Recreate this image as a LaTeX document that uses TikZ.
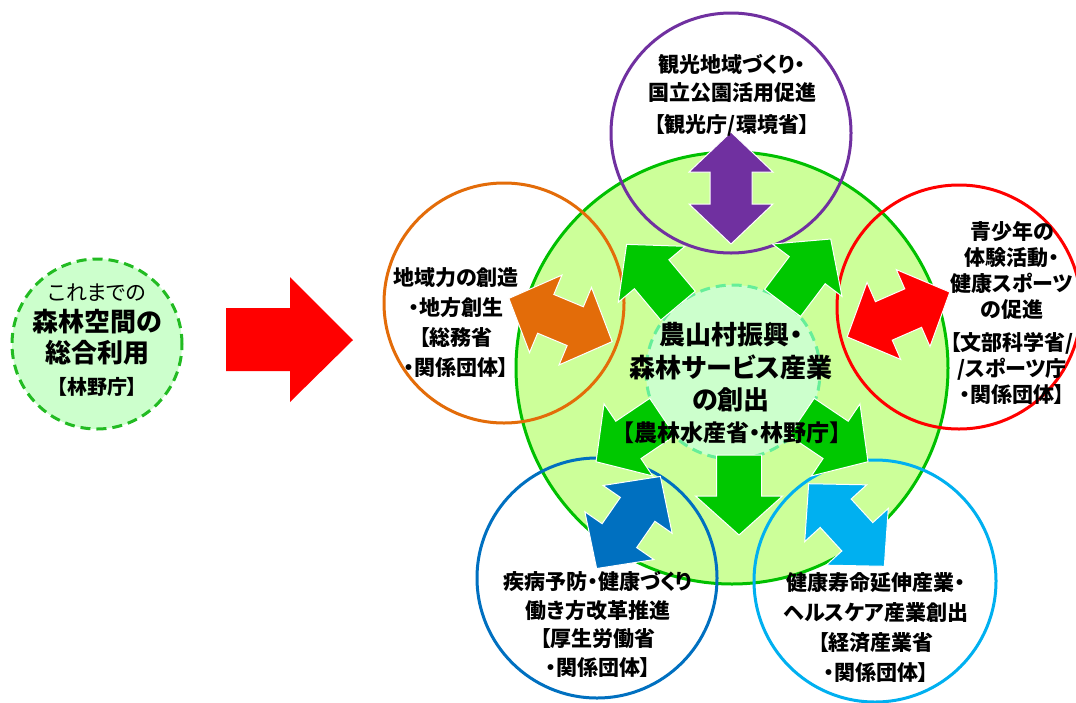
\documentclass[tikz,border=0pt]{standalone}
\usepackage{fontspec}
\setmainfont{Noto Sans CJK JP}[RawFeature={+palt}]
\definecolor{gring}{HTML}{00C000}
\definecolor{gfill}{HTML}{CCFF99}
\definecolor{ifill}{HTML}{CCFFCC}
\definecolor{idash}{HTML}{66EE99}
\definecolor{ldash}{HTML}{22BB22}
\definecolor{garrow}{HTML}{00C800}
\definecolor{cpurple}{HTML}{7030A0}
\definecolor{corange}{HTML}{E36C09}
\definecolor{cred}{HTML}{FF0000}
\definecolor{cblue}{HTML}{0070C0}
\definecolor{clblue}{HTML}{00B0F0}
\newcommand\mygarrow[3]{%
  \begin{scope}[shift={(#1,#2)},rotate=#3]
    \fill[garrow,draw=white,line width=1pt] (84,-22.5) -- (125,-22.5) -- (125,-43.5) -- (164,0)
      -- (125,43.5) -- (125,22.5) -- (84,22.5) -- cycle;
  \end{scope}}
\newcommand\mydarrow[4]{%
  \begin{scope}[shift={(#1,#2)},rotate=#3]
    \fill[#4,draw=white,line width=1pt] (-56,0) -- (-16,42) -- (-16,21) -- (16,21) -- (16,42)
      -- (56,0) -- (16,-42) -- (16,-21) -- (-16,-21) -- (-16,-42) -- cycle;
  \end{scope}}
\begin{document}
\begin{tikzpicture}[x=1pt,y=-1pt,
  ringc/.style={circle,draw,line width=3pt,inner sep=0pt,minimum size=#1},
  txt/.style={align=center,inner sep=0pt,font=\fontsize{21}{28}\selectfont\bfseries},
  ]
\useasboundingbox (0,0) rectangle (1076,702);
\fill[white] (0,0) rectangle (1076,702);
\clip (0,0) rectangle (1076,702);
% left circle
\node[ringc=170,draw=ldash,fill=ifill,dash pattern=on 10pt off 6pt] (left) at (97,344) {};
\node[inner sep=0pt,font=\fontsize{21}{21}\selectfont] (l1) at (97,293) {これまでの};
\node[inner sep=0pt,font=\fontsize{26}{26}\selectfont\bfseries] (l2) at (97,322) {森林空間の};
\node[inner sep=0pt,font=\fontsize{26}{26}\selectfont\bfseries] (l3) at (97,353) {総合利用};
\node[inner sep=0pt,font=\fontsize{20}{20}\selectfont\bfseries] (l4) at (97,387) {【林野庁】};
% red arrow
\fill[cred] (226,308) -- (290,308) -- (290,277) -- (353,340) -- (290,402) -- (290,371) -- (226,371) -- cycle;
% big circle
\node[ringc=432,draw=gring,fill=gfill] (big) at (732,368) {};
\node[ringc=174,draw=idash,fill=ifill,dash pattern=on 10pt off 6pt] (inner) at (733,372) {};
% outer circles
\node[ringc=240,draw=cpurple] (purple) at (731,133) {};
\node[ringc=240,draw=corange] (orange) at (504,303) {};
\node[ringc=244,draw=cred] (red) at (959,307) {};
\node[ringc=240,draw=cblue] (blue) at (597,578) {};
\node[ringc=242,draw=clblue] (lblue) at (875,581) {};
% green arrows
\mygarrow{732}{370}{53}
\mygarrow{732}{370}{130}
\mygarrow{732}{370}{214}
\mygarrow{739}{371}{270}
\mygarrow{732}{370}{326}
% double arrows
\mydarrow{731}{188}{90}{cpurple}
\mydarrow{560.5}{320}{-22.7}{corange}
\mydarrow{898.5}{314.5}{23.6}{cred}
\mydarrow{628.5}{522.5}{55.3}{cblue}
\mydarrow{846.5}{525}{-47.5}{clblue}
% central text
\node[inner sep=0pt,font=\fontsize{26}{26}\selectfont\bfseries] (c1) at (731,335) {農山村振興・};
\node[inner sep=0pt,font=\fontsize{26}{26}\selectfont\bfseries] (c2) at (731,367) {森林サービス産業};
\node[inner sep=0pt,font=\fontsize{26}{26}\selectfont\bfseries] (c3) at (731,400) {の創出};
\node[inner sep=0pt,font=\fontsize{23}{23}\selectfont\bfseries] (c4) at (732,433) {【農林水産省・林野庁】};
% circle texts
\node[txt] (tp) at (732,95) {観光地域づくり・\\国立公園活用促進\\[4pt]【観光庁/環境省】};
\node[txt,font=\fontsize{21}{30}\selectfont\bfseries] (to) at (456,322.5) {地域力の創造\\・地方創生\\【総務省\\・関係団体】};
\node[txt,font=\fontsize{21}{26}\selectfont\bfseries] (tr) at (1012,312.5) {青少年の\\体験活動・\\健康スポーツ\\の促進\\[7pt]【文部科学省/\\/スポーツ庁\\・関係団体】};
\node[txt,font=\fontsize{21}{28.5}\selectfont\bfseries] (tb) at (598,624.5) {疾病予防・健康づくり\\働き方改革推進\\【厚生労働省\\・関係団体】};
\node[txt,font=\fontsize{21}{29.7}\selectfont\bfseries] (tl) at (876,627.5) {健康寿命延伸産業・\\ヘルスケア産業創出\\【経済産業省\\・関係団体】};
\end{tikzpicture}
\end{document}
